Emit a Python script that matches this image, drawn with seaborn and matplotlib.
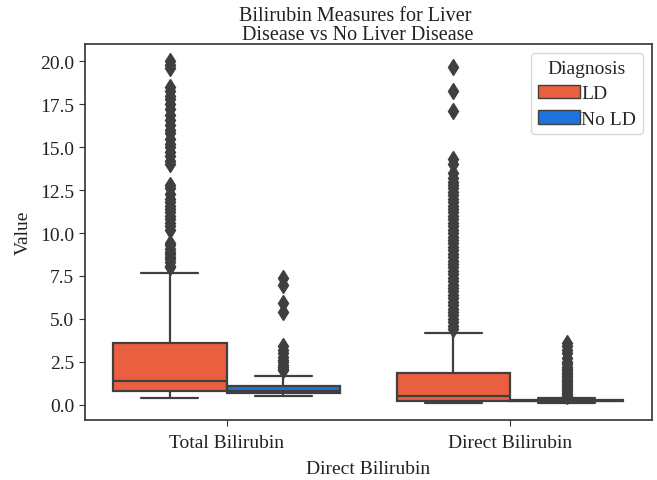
import matplotlib
matplotlib.use("Agg")
import matplotlib.pyplot as plt
import seaborn as sns
import pandas as pd

# Categories
measures = ["Total Bilirubin", "Direct Bilirubin"]
diagnoses = ["LD", "No LD"]
palette = {"LD": "#EA5F40", "No LD": "#1F72DC"}

# Five-number summaries per (measure, diagnosis): lower whisker, Q1, median, Q3, upper whisker
total_ld_stats = [0.4, 0.8, 1.4, 3.6, 7.7]
total_no_ld_stats = [0.5, 0.7, 0.8, 1.1, 1.7]
direct_ld_stats = [0.1, 0.2, 0.5, 1.85, 4.2]
direct_no_ld_stats = [0.1, 0.2, 0.2, 0.3, 0.4]

# Outlying observations per group
total_ld_fliers = [8.0, 8.1, 8.3, 8.5, 8.6, 8.8, 8.9, 9.1, 9.3, 9.4,
                   10.2, 10.4, 10.6, 10.8, 11.0, 11.2, 11.4, 11.6, 11.8,
                   12.0, 12.3, 12.6, 12.8,
                   14.0, 14.2, 14.5, 14.7, 15.0, 15.2, 15.5, 15.8, 16.0,
                   16.3, 16.6, 16.9, 17.2, 17.5, 17.8, 18.0, 18.3, 18.5,
                   19.6, 19.8, 20.0]
total_no_ld_fliers = [2.0, 2.1, 2.2, 2.3, 2.5, 2.6, 2.8, 3.0, 3.2, 3.4,
                      5.4, 5.9, 7.0, 7.4]
direct_ld_fliers = [4.4, 4.6, 4.8, 5.0, 5.2, 5.4, 5.6, 5.8, 6.0, 6.2,
                    6.4, 6.6, 6.8, 7.0, 7.2, 7.4, 7.6, 7.8, 8.0, 8.2,
                    8.4, 8.6, 8.8, 9.0, 9.2, 9.4, 9.6, 9.8, 10.0, 10.2,
                    10.4, 10.6, 10.8, 11.0, 11.2, 11.4, 11.6, 11.8, 12.0,
                    12.2, 12.4, 12.6, 12.8, 13.0, 13.2, 13.5, 14.0, 14.3,
                    17.1, 18.3, 19.7]
direct_no_ld_fliers = [0.5, 0.6, 0.7, 0.8, 0.9, 1.0, 1.1, 1.2, 1.3, 1.4,
                       1.5, 1.6, 1.7, 1.8, 1.9, 2.0, 2.1, 2.2, 2.4, 2.5,
                       2.7, 3.0, 3.2, 3.4, 3.6]

groups = [
    ("Total Bilirubin", "LD", total_ld_stats, total_ld_fliers),
    ("Total Bilirubin", "No LD", total_no_ld_stats, total_no_ld_fliers),
    ("Direct Bilirubin", "LD", direct_ld_stats, direct_ld_fliers),
    ("Direct Bilirubin", "No LD", direct_no_ld_stats, direct_no_ld_fliers),
]


def sample_from_summary(stats, fliers):
    """Build observations whose quartiles and whiskers equal the summary."""
    lo, q1, med, q3, hi = stats
    k = len(fliers) + 5
    return [lo] + [q1] * k + [med] * k + [q3] * k + [hi] + list(fliers)


rows = []
for measure, diag, stats, fliers in groups:
    for v in sample_from_summary(stats, fliers):
        rows.append({"Measure": measure, "Diagnosis": diag, "Value": v})
df = pd.DataFrame(rows)

sns.set_style("ticks")
plt.rcParams["font.family"] = ["Liberation Serif", "DejaVu Serif"]

fig, ax = plt.subplots(figsize=(6.57, 4.81), dpi=100)
fig.subplots_adjust(left=0.129, right=0.992, top=0.906, bottom=0.125)

line_col = "#3f3f3f"
sns.boxplot(
    data=df, x="Measure", y="Value", hue="Diagnosis",
    order=measures, hue_order=diagnoses, palette=palette,
    saturation=1, width=0.8, gap=0, linecolor=line_col, linewidth=1.6,
    flierprops=dict(marker="d", markerfacecolor=line_col,
                    markeredgecolor=line_col, markersize=8),
    ax=ax,
)

for side in ["top", "right", "left", "bottom"]:
    ax.spines[side].set_visible(True)
    ax.spines[side].set_color("#333333")
    ax.spines[side].set_linewidth(1.2)

ax.set_ylim(-0.88, 21.0)
ax.set_yticks([0, 2.5, 5, 7.5, 10, 12.5, 15, 17.5, 20])
ax.set_yticklabels(["0.0", "2.5", "5.0", "7.5", "10.0", "12.5", "15.0", "17.5", "20.0"])
ax.tick_params(axis="both", labelsize=14, length=4, color="#333333", labelcolor="#222222")
ax.tick_params(axis="x", pad=6)

ax.set_xlabel("Direct Bilirubin", fontsize=14, color="#222222", labelpad=7)
ax.set_ylabel("Value", fontsize=14, color="#222222", labelpad=6)
ax.set_title("Bilirubin Measures for Liver\n Disease vs No Liver Disease",
             fontsize=14.5, color="#222222", x=0.477, linespacing=1.0, pad=3)

leg = ax.legend(title="Diagnosis", loc="upper right", fontsize=14,
                title_fontsize=14, handlelength=2.2, handletextpad=0.05,
                labelspacing=0.4, borderpad=0.35, borderaxespad=0.45)
leg.get_frame().set_edgecolor("#d0d0d0")
for h in leg.legend_handles:
    h.set_linewidth(1.0)

fig.savefig("out.png", dpi=100)
